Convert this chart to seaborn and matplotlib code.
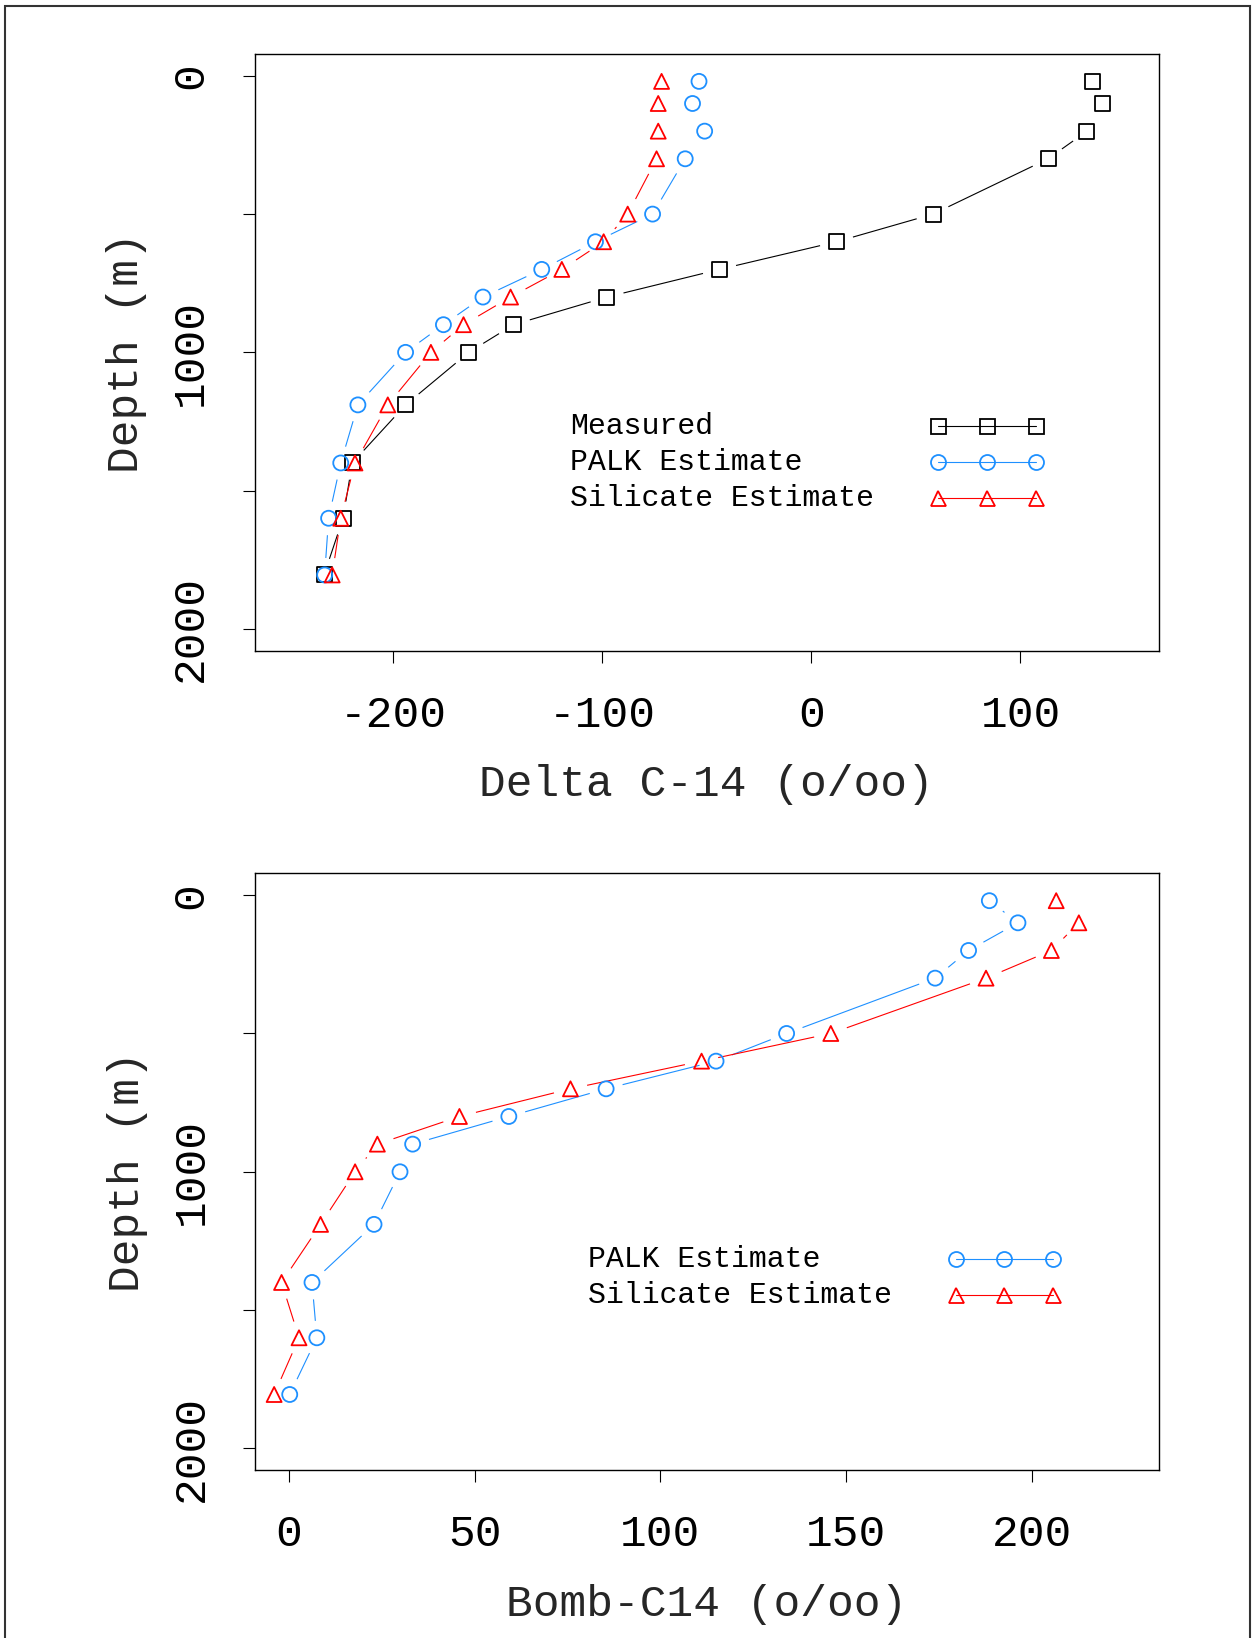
import numpy as np
import pandas as pd
import matplotlib
matplotlib.use("Agg")
import matplotlib.pyplot as plt
import seaborn as sns
from matplotlib.patches import Rectangle
from matplotlib.collections import LineCollection

# ---------------- data ----------------
depth = [20, 100, 200, 300, 500, 600, 700, 800, 900, 1000, 1190, 1400, 1600, 1805]
measured = [134.6, 139.3, 131.8, 113.2, 58.2, 12.1, -43.9, -97.7, -142.4,
            -163.8, -194.0, -219.5, -223.9, -233.0]
palk = [-53.7, -56.8, -51.0, -60.3, -75.9, -103.2, -128.9, -157.0, -175.9,
        -194.0, -216.8, -225.0, -230.8, -232.7]
silicate = [-71.6, -73.2, -73.2, -74.0, -87.8, -99.3, -119.3, -143.8, -166.3,
            -181.9, -202.5, -218.2, -225.0, -229.1]
bomb_palk = [188.6, 196.3, 183.0, 174.0, 134.0, 115.0, 85.4, 59.2, 33.3,
             29.9, 22.9, 6.2, 7.5, 0.2]
bomb_silicate = [206.6, 212.7, 205.3, 187.7, 145.9, 111.1, 75.8, 45.9, 23.8,
                 17.8, 8.5, -2.0, 2.7, -4.0]

top_xticks = [-200, -100, 0, 100]
bottom_xticks = [0, 50, 100, 150, 200]
yticks = [0, 500, 1000, 1500, 2000]
ytick_labels = ["0", "", "1000", "", "2000"]

labels_top = ["Measured", "PALK Estimate", "Silicate Estimate"]
labels_bottom = ["PALK Estimate", "Silicate Estimate"]

# ---------------- style ----------------
sns.set_style("ticks")
plt.rcParams['font.family'] = ['Liberation Mono', 'DejaVu Sans Mono']
plt.rcParams['axes.edgecolor'] = 'black'
plt.rcParams['xtick.color'] = 'black'
plt.rcParams['ytick.color'] = 'black'

BLACK = "#000000"
BLUE = "#1E90FF"
RED = "#FF0000"

W, H = 1255, 1638
fig = plt.figure(figsize=(W / 100, H / 100), dpi=100)
fig.patch.set_facecolor("white")


def axes_px(left, top, right, bottom):
    return fig.add_axes([left / W, 1 - bottom / H, (right - left) / W, (bottom - top) / H])


ax1 = axes_px(255, 54, 1158.7, 650.7)
ax2 = axes_px(255.3, 873.3, 1158.7, 1470.3)

FS = 32
LEG_FS = 21.5
MS = 10.8
MEW = 1.3
LW = 0.8


def markers(ax, x, y, marker, color):
    df = pd.DataFrame({"x": x, "y": y})
    sns.scatterplot(data=df, x="x", y="y", ax=ax, marker=marker, s=MS ** 2,
                    facecolor="none", edgecolor=color, linewidth=MEW,
                    zorder=3, legend=False)


def gapped_line(ax, x, y, color, gap=17.0):
    pts = ax.transData.transform(np.column_stack([x, y]))
    inv = ax.transData.inverted()
    segs = []
    for p0, p1 in zip(pts[:-1], pts[1:]):
        d = p1 - p0
        L = np.hypot(*d)
        if L > 2 * gap:
            u = d / L
            segs.append(inv.transform(np.array([p0 + u * gap, p1 - u * gap])))
    ax.add_collection(LineCollection(segs, colors=color, linewidths=LW), autolim=False)


def legend(ax, xt, ys, labels, mks, colors, xm):
    for y, lab, m, c in zip(ys, labels, mks, colors):
        ax.text(xt, y, lab, transform=ax.transAxes, fontsize=LEG_FS,
                va="center", ha="left", color="black")
        ax.plot(xm, [y] * len(xm), transform=ax.transAxes, color=c, lw=LW,
                marker=m, ms=MS, mfc="none", mec=c, mew=MEW, clip_on=False)


def style_axes(ax, xticks, xlim, xlabel):
    ax.set_xlim(*xlim)
    ax.set_ylim(2079, -79)
    ax.set_xticks(xticks)
    ax.set_xticklabels([str(t) for t in xticks])
    ax.set_yticks(yticks)
    ax.set_yticklabels(ytick_labels, rotation=90, va="center")
    ax.tick_params(direction="out", length=8.6, width=0.8, labelsize=FS, pad=23,
                   bottom=True, left=True, top=False, right=False)
    for sp in ax.spines.values():
        sp.set_visible(True)
        sp.set_linewidth(1.0)
        sp.set_color("black")
    ax.set_xlabel(xlabel, fontsize=FS, va="center")
    ax.xaxis.set_label_coords(0.5, -0.225)
    ax.set_ylabel("Depth (m)", fontsize=FS, va="center", ha="center")
    ax.yaxis.set_label_coords(-0.142, 0.5)


# ---------------- top panel ----------------
markers(ax1, measured, depth, "s", BLACK)
markers(ax1, palk, depth, "o", BLUE)
markers(ax1, silicate, depth, "^", RED)
style_axes(ax1, top_xticks, (-266, 166.1), "Delta C-14 (o/oo)")
gapped_line(ax1, measured, depth, BLACK)
gapped_line(ax1, palk, depth, BLUE)
gapped_line(ax1, silicate, depth, RED)
legend(ax1, 0.349, [0.3766, 0.3157, 0.2564], labels_top, ["s", "o", "^"],
       [BLACK, BLUE, RED], [0.7562, 0.8102, 0.8642])

# ---------------- bottom panel ----------------
markers(ax2, bomb_palk, depth, "o", BLUE)
markers(ax2, bomb_silicate, depth, "^", RED)
style_axes(ax2, bottom_xticks, (-9.07, 234.2), "Bomb-C14 (o/oo)")
gapped_line(ax2, bomb_palk, depth, BLUE)
gapped_line(ax2, bomb_silicate, depth, RED)
legend(ax2, 0.3678, [0.3539, 0.2936], labels_bottom, ["o", "^"],
       [BLUE, RED], [0.7756, 0.8292, 0.8832])

# outer frame (open at the bottom edge of the image)
fig.add_artist(Rectangle((5 / W, -0.02), (1249.5 - 5) / W, 1 - 6 / H + 0.02,
                         transform=fig.transFigure, fill=False,
                         edgecolor="#333333", linewidth=1.5))

fig.savefig("out.png", dpi=100, facecolor="white")
